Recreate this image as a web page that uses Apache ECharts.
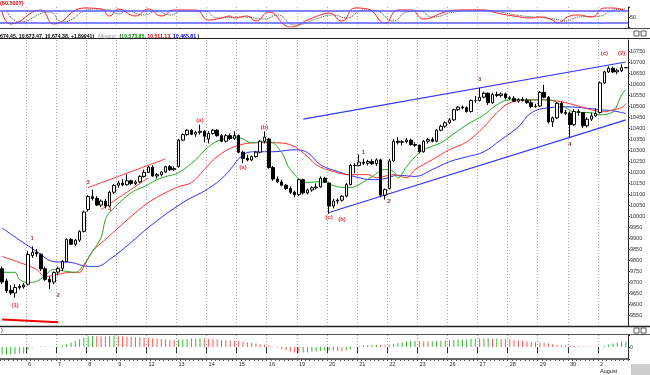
<!DOCTYPE html>
<html><head><meta charset="utf-8">
<script src="https://cdn.jsdelivr.net/npm/echarts@6/dist/echarts.min.js"></script>
<style>html,body{margin:0;padding:0;background:#fff}#c{width:650px;height:375px}</style>
</head><body><div id="c"></div>
<script>
// ---- categories (hourly bars, DJIA 2 Jul - 2 Aug 2010) ----
const dayLabels = ['2','6','7','8','9','12','13','14','15','16','19','20','21','22','23','26','27','28','29','30','2'];
const barsPerDay = [6,7,7,7,7,7,7,7,7,7,7,7,7,7,7,7,7,7,7,7,7];
const monthLabel = 'August';

// ---- price OHLC ----
const open = [
9760,9705,9662,9650,9675,9678,
9690,9820,9835,9826,9760,9712,9700,
9745,9762,9793,9893,9872,9890,9930,
10030,10088,10080,10050,10068,10045,10108,
10140,10150,10142,10160,10148,10155,10180,
10198,10222,10182,10188,10200,10224,10210,
10225,10345,10370,10390,10372,10380,10385,
10350,10375,10390,10365,10340,10365,10352,
10366,10290,10262,10255,10270,10290,10340,
10350,10220,10168,10155,10140,10125,10108,
10097,10165,10105,10118,10128,10132,10172,
10150,10045,10068,10072,10090,10143,10230,
10230,10245,10240,10248,10238,10255,10095,
10125,10250,10340,10335,10338,10345,10325,
10322,10292,10340,10348,10340,10390,10408,
10424,10437,10483,10495,10492,10475,10525,
10525,10540,10558,10515,10552,10548,10555,
10537,10535,10522,10530,10525,10515,10498,
10500,10562,10540,10428,10446,10512,10470,
10467,10415,10475,10470,10410,10440,10455,
10470,10605,10655,10672,10655,10660,10674];
const high = [
9770,9715,9685,9690,9690,9695,
9840,9862,9850,9830,9770,9725,9748,
9770,9800,9898,9900,9895,9935,10025,
10095,10120,10090,10075,10078,10115,10145,
10160,10168,10190,10165,10162,10185,10210,
10228,10230,10195,10205,10228,10232,10225,
10350,10375,10395,10395,10388,10415,10390,
10385,10395,10395,10372,10372,10375,10385,
10370,10295,10278,10275,10295,10345,10385,
10355,10228,10180,10165,10145,10135,10115,
10170,10170,10125,10135,10148,10180,10178,
10152,10078,10080,10095,10150,10238,10240,
10280,10260,10255,10258,10262,10260,10125,
10260,10350,10358,10345,10355,10352,10335,
10325,10345,10355,10358,10395,10415,10430,
10445,10488,10500,10502,10498,10530,10545,
10582,10565,10562,10560,10565,10562,10560,
10545,10545,10535,10540,10535,10528,10510,
10568,10596,10545,10452,10518,10520,10482,
10475,10485,10485,10472,10448,10470,10490,
10612,10660,10680,10678,10670,10690,10674.45];
const low = [
9690,9650,9640,9628,9665,9670,
9685,9810,9815,9750,9705,9668,9690,
9730,9750,9790,9868,9865,9882,9925,
10020,10070,10045,10040,10035,10040,10100,
10128,10135,10138,10140,10140,10150,10175,
10195,10178,10170,10180,10195,10205,10205,
10220,10340,10365,10368,10360,10370,10335,
10330,10370,10360,10335,10335,10345,10345,
10285,10240,10248,10250,10265,10285,10330,
10215,10160,10150,10135,10118,10100,10085,
10090,10098,10098,10110,10120,10128,10150,
10010,10035,10055,10065,10085,10140,10195,
10225,10232,10230,10232,10228,10085,10075,
10120,10245,10325,10320,10330,10320,10315,
10285,10288,10330,10335,10335,10385,10400,
10418,10432,10478,10485,10470,10470,10515,
10520,10535,10505,10510,10540,10540,10530,
10528,10518,10515,10520,10510,10490,10492,
10495,10535,10420,10405,10440,10465,10460,
10360,10410,10455,10400,10402,10432,10450,
10466,10600,10650,10650,10645,10655,10673.47];
const close = [
9700,9660,9650,9675,9680,9686,
9825,9835,9828,9760,9712,9700,9743,
9762,9793,9893,9872,9890,9930,10018,
10088,10080,10050,10068,10045,10108,10139,
10150,10142,10160,10148,10155,10180,10198,
10222,10182,10188,10200,10224,10210,10216,
10345,10370,10390,10372,10380,10385,10363,
10375,10390,10365,10340,10365,10352,10366,
10290,10262,10255,10270,10290,10340,10359,
10220,10168,10155,10140,10125,10108,10097,
10165,10105,10118,10128,10132,10172,10154,
10045,10068,10072,10090,10143,10230,10229,
10245,10240,10248,10238,10255,10095,10120,
10250,10340,10335,10338,10345,10325,10322,
10292,10340,10348,10340,10390,10408,10424,
10437,10483,10495,10492,10475,10525,10525,
10540,10558,10515,10552,10548,10555,10537,
10535,10522,10530,10525,10515,10498,10497,
10562,10540,10428,10446,10512,10470,10467,
10415,10475,10470,10410,10440,10455,10466,
10605,10655,10672,10655,10662,10674,10674.38];

const jawBar = [0,8,12,16,20,22,25,30,34,42,48,52,56,59,63,68,71,74,78,82,86,89,92,96,100,104,108,112,116,120,123,127,131,135,139,142,145];
const jawVal = [9945,9839,9793,9789,9771,9771,9803,9880,9948,10061,10125,10188,10278,10292,10292,10301,10288,10233,10202,10179,10165,10170,10185,10180,10211,10247,10269,10292,10347,10405,10469,10492,10496,10492,10483,10478,10466];
const teethBar = [0,4,8,10,13,16,18,19,21,24,30,34,38,41,44,47,50,54,59,63,67,71,73,77,81,85,87,91,94,96,100,104,108,112,115,118,122,126,130,133,137,140,142,144,145];
const teethVal = [9816,9789,9757,9725,9735,9744,9744,9771,9839,9893,9998,10061,10106,10133,10152,10211,10270,10315,10333,10333,10324,10270,10233,10202,10188,10188,10174,10188,10174,10211,10256,10301,10337,10405,10469,10514,10528,10528,10519,10505,10483,10474,10483,10492,10511];
const lipsBar = [0,3,4,6,8,11,12,15,17,19,21,23,24,25,30,33,36,38,41,45,48,51,55,58,62,65,67,71,74,78,81,83,86,89,91,92,94,97,99,102,104,108,112,115,118,122,125,127,130,133,137,139,142,143,144,145];
const lipsVal = [9744,9744,9712,9698,9703,9748,9757,9748,9744,9780,9839,9902,9984,10016,10106,10133,10165,10179,10197,10256,10315,10347,10356,10333,10338,10288,10211,10152,10156,10133,10129,10143,10179,10211,10202,10174,10224,10288,10310,10333,10360,10414,10460,10505,10528,10528,10528,10528,10505,10473,10469,10460,10473,10505,10550,10574];

// ---- Stochastic (top panel) ----
const kBar = [0,2,9,12,19,23,25,27,31,34,37,40,45,48,51,53,54,57,59,62,66,67,71,74,76,79,82,85,89,92,95,98,103,107,112,115,119,123,125,128,129,132,134,137,140,142,145];
const kVal = [75,15,85,15,95,90,55,90,55,90,55,85,85,35,45,55,45,55,30,75,5,0,35,60,70,30,95,90,20,85,85,40,75,85,85,70,55,45,50,35,20,55,60,50,95,95,80];
const dBar = [1,4,11,14,21,25,27,29,33,36,39,42,47,50,53,56,61,64,68,70,73,77,80,84,87,91,94,97,100,105,109,114,117,121,125,129,131,134,139,142,145];
const dVal = [80,25,75,25,90,85,65,80,60,80,60,80,80,45,48,50,40,60,10,15,40,60,45,85,80,30,75,80,50,75,85,80,70,55,48,38,30,50,55,85,90];
const stochLevels = [80, 20];

// ---- Awesome oscillator (bottom panel) ----
const ao = [
-190,-185,-180,-175,-170,-160,
-60,-15,8,12,10,8,6,
20,40,70,110,150,190,230,
260,275,270,268,265,272,280,
270,262,255,250,245,238,232,
228,220,210,200,190,180,172,
175,190,200,210,215,222,220,
205,195,185,178,170,165,158,
150,135,120,105,90,70,55,
35,15,-20,-50,-80,-110,-135,
-150,-140,-130,-120,-110,-100,-90,
-85,-95,-100,-105,-90,-50,-10,
20,35,45,52,58,55,40,
60,80,100,120,135,145,150,
145,140,138,145,150,155,165,
175,180,185,190,195,200,205,
210,208,212,205,210,200,195,
185,175,165,155,140,130,120,
110,100,90,70,55,45,35,
30,25,20,15,10,8,5,
3,30,60,90,110,130,140];

// ---- trend lines [bar, price] ----
const blueUpper = [[70,10440],[145,10700]];
const blueLower = [[76,10016],[145,10437]];
const redUpper = [[20,10129],[38,10260]];
const redLower = [[23,10029],[34,10174]];
const redBottom = [[0,9530],[13,9517]];

// ---- wave annotations ----
const annoText = ['(1)','1','2','3','4','(a)','(a)','(b)','(c)','(b)','1','2','3','4','(c)','(2)'];
const annoBar = [3,7,13,20,25,46,56,61,76,79,84,90,111,132,140,144];
const annoPrice = [9594,9898,9639,10152,10029,10433,10220,10401,9993,9984,10288,10066,10619,10324,10741,10741];

// ---- header values ----
const headerOHLC = '674.45, 10,673.47, 10,674.38, +1.89941)';
const alligatorNow = ['10,573.85','10,511.13','10,465.81'];
const stochNow = '(80.5007)';

// ---------------- build ----------------
const cats = [], dayStart = [];
dayLabels.forEach((d, di) => {
  for (let k = 0; k < barsPerDay[di]; k++) { cats.push(di + '-' + k); dayStart.push(k === 0); }
});
const pairs = (b, v) => b.map((x, i) => [x, v[i]]);
const FONT = 'Liberation Sans, Arial, sans-serif';
const gridLine = {show: true, interval: (i) => dayStart[i] && i > 0, lineStyle: {color: '#a8a8a8', type: [1, 2], width: 1}};

function xBase(gi) {
  return {type: 'category', gridIndex: gi, data: cats, boundaryGap: true,
    axisLine: {show: false}, axisTick: {show: false}, axisLabel: {show: false}, splitLine: gridLine};
}

const chart = echarts.init(document.getElementById('c'), null, {renderer: 'canvas'});
const lineS = (xi, data, color, extra) => Object.assign({
  type: 'line', xAxisIndex: xi, yAxisIndex: xi, data, smooth: 0.4, symbol: 'none',
  connectNulls: true, lineStyle: {color, width: 1}, silent: true, z: 3
}, extra || {});

const option = {
  animation: false,
  backgroundColor: '#fff',
  grid: [
    {left: 0, right: 22, top: 7, height: 20},
    {left: 0, right: 22, top: 40, height: 286},
    {left: 0, right: 22, top: 335, height: 24}
  ],
  xAxis: [
    xBase(0), xBase(1),
    Object.assign(xBase(2), {
      axisLine: {show: true, onZero: false, lineStyle: {color: '#333', width: 1.5}},
      axisTick: {show: true, interval: 0, length: 2, lineStyle: {color: '#555'}},
      axisLabel: {show: true, interval: (i) => dayStart[i] && i > 0, align: 'left', margin: 2,
        fontSize: 5.5, color: '#222', fontFamily: FONT, lineHeight: 7,
        formatter: (v) => { const di = +v.split('-')[0]; return di === dayLabels.length - 1 ? dayLabels[di] + '\n' + monthLabel : dayLabels[di]; }}
    }),
    {type: 'category', gridIndex: 2, data: cats, boundaryGap: true, position: 'bottom',
      axisLine: {show: false}, axisLabel: {show: false}, splitLine: {show: false},
      axisTick: {show: true, interval: (i) => dayStart[i] && i > 0, length: 6, lineStyle: {color: '#333'}}}
  ],
  yAxis: [
    {type: 'value', gridIndex: 0, position: 'right', min: 0, max: 100, interval: 50,
      axisLine: {show: true, lineStyle: {color: '#222'}}, axisTick: {show: true, length: 2},
      splitLine: {show: false},
      axisLabel: {fontSize: 5.5, color: '#333', margin: 2, fontFamily: FONT, formatter: (v) => v === 50 ? '50' : ''}},
    {type: 'value', gridIndex: 1, position: 'right', min: 9500, max: 10800, interval: 50,
      axisLine: {show: true, lineStyle: {color: '#222'}}, axisTick: {show: true, length: 2, lineStyle: {color: '#333'}},
      splitLine: {show: false},
      axisLabel: {fontSize: 5.5, color: '#333', margin: 2, fontFamily: FONT, showMinLabel: false, showMaxLabel: false,
        formatter: (v) => String(v)}},
    {type: 'value', gridIndex: 2, position: 'right', min: -300, max: 300, interval: 300,
      axisLine: {show: true, lineStyle: {color: '#222'}}, axisTick: {show: true, length: 2},
      splitLine: {show: false},
      axisLabel: {fontSize: 5.5, color: '#333', margin: 2, fontFamily: FONT, formatter: (v) => v === 0 ? '0' : ''}}
  ],
  series: [
    // stochastic
    lineS(0, pairs(dBar, dVal), '#333', {lineStyle: {color: '#444', width: 1, type: [1, 1]}, smooth: 0.5}),
    lineS(0, pairs(kBar, kVal), '#ff2020', {smooth: 0.5,
      markLine: {silent: true, symbol: ['none', 'none'], label: {show: false},
        lineStyle: {color: '#5a5aff', width: 1.5, type: 'solid'},
        data: stochLevels.map(v => ({yAxis: v}))}}),
    // alligator
    lineS(1, pairs(jawBar, jawVal), '#3030ff'),
    lineS(1, pairs(teethBar, teethVal), '#ff3030'),
    lineS(1, pairs(lipsBar, lipsVal), '#22aa22'),
    // trend lines
    lineS(1, blueUpper, '#3535ff', {smooth: false, lineStyle: {color: '#3535ff', width: 1.2}}),
    lineS(1, blueLower, '#3535ff', {smooth: false, lineStyle: {color: '#3535ff', width: 1.2}}),
    lineS(1, redUpper, '#ff4040', {smooth: false}),
    lineS(1, redLower, '#ff4040', {smooth: false}),
    lineS(1, redBottom, '#ee0000', {smooth: false, lineStyle: {color: '#ee0000', width: 2}}),
    // candles
    {type: 'candlestick', xAxisIndex: 1, yAxisIndex: 1, barWidth: 3, z: 5, silent: true,
      data: cats.map((_, i) => [open[i], close[i], low[i], high[i]]),
      itemStyle: {color: '#ffffff', color0: '#000000', borderColor: '#000000', borderColor0: '#000000', borderWidth: 1}},
    // annotations
    {type: 'scatter', xAxisIndex: 1, yAxisIndex: 1, symbolSize: 0, z: 6, silent: true,
      data: annoBar.map((b, i) => ({value: [b, annoPrice[i]], name: annoText[i],
        label: {color: annoText[i].charAt(0) === '(' ? '#ee0000' : '#8b0000'}})),
      label: {show: true, position: 'inside', fontSize: 6, fontWeight: 'bold', fontFamily: FONT,
        formatter: (p) => p.name},
      itemStyle: {color: 'transparent'}},
    // AO
    {type: 'bar', xAxisIndex: 2, yAxisIndex: 2, barWidth: 1, silent: true,
      data: ao.map((v, i) => ({value: v, itemStyle: {color: (i === 0 || v >= ao[i - 1]) ? '#33bb33' : '#ff5555'}}))}
  ],
  graphic: [
    {type: 'text', left: 0, top: 0, style: {text: stochNow, fill: '#e00000', font: 'bold 5.5px ' + FONT}},
    {type: 'line', shape: {x1: 0, y1: 28.5, x2: 650, y2: 28.5}, style: {stroke: '#444', lineWidth: 1}},
    {type: 'line', shape: {x1: 0, y1: 38.5, x2: 650, y2: 38.5}, style: {stroke: '#222', lineWidth: 1}},
    {type: 'text', left: 0, top: 30.5, style: {
      text: '{b|' + headerOHLC + '} {g|Alligator} {b|(}{gr|' + alligatorNow[0] + '}{b|, }{r|' + alligatorNow[1] + '}{b|, }{bl|' + alligatorNow[2] + '}{b| )}',
      rich: {
        b: {fill: '#000', font: 'bold 5.2px ' + FONT},
        g: {fill: '#999', font: '5.2px ' + FONT},
        gr: {fill: '#008800', font: 'bold 5.2px ' + FONT},
        r: {fill: '#e00000', font: 'bold 5.2px ' + FONT},
        bl: {fill: '#0000dd', font: 'bold 5.2px ' + FONT}
      }}},
    {type: 'line', shape: {x1: 0, y1: 326.5, x2: 650, y2: 326.5}, style: {stroke: '#222', lineWidth: 1.5}},
    {type: 'line', shape: {x1: 0, y1: 334.5, x2: 650, y2: 334.5}, style: {stroke: '#555', lineWidth: 1}},
    {type: 'text', left: 1, top: 328, style: {text: ')', fill: '#000', font: '5px ' + FONT}},
    {type: 'rect', shape: {x: 634, y: 31, width: 5, height: 5}, style: {fill: '#fff', stroke: '#333', lineWidth: 0.8}},
    {type: 'rect', shape: {x: 641, y: 31, width: 5, height: 5}, style: {fill: '#fff', stroke: '#333', lineWidth: 0.8}},
    {type: 'rect', shape: {x: 634, y: 328, width: 5, height: 5}, style: {fill: '#fff', stroke: '#333', lineWidth: 0.8}},
    {type: 'rect', shape: {x: 641, y: 328, width: 5, height: 5}, style: {fill: '#fff', stroke: '#333', lineWidth: 0.8}},
    {type: 'rect', shape: {x: 631, y: 364, width: 19, height: 11}, style: {fill: '#cdcdcd'}}
  ]
};
chart.setOption(option);
</script></body></html>
